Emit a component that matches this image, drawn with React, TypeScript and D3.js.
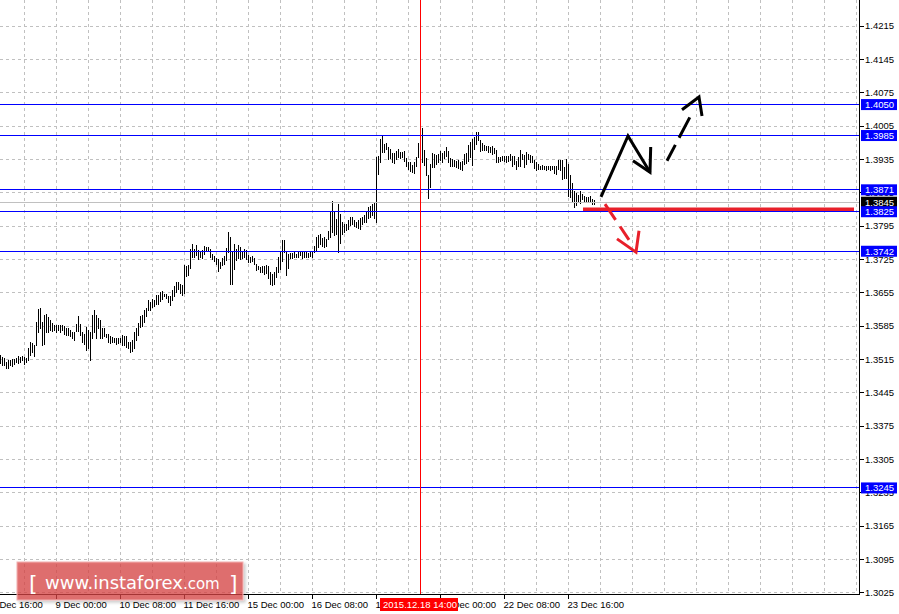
import React from 'react';
import * as d3 from 'd3';

// ---- Data (EURUSD H1 bars) ----
const highs = [
  1.3524,1.3520,1.3517,1.3510,1.3513,1.3513,1.3516,1.3516,1.3517,1.3521,
  1.3520,1.3523,1.3520,1.3518,1.3538,1.3552,1.3549,1.3546,1.3594,1.3621,
  1.3623,1.3594,1.3608,1.3611,1.3604,1.3597,1.3591,1.3588,1.3587,1.3587,
  1.3587,1.3587,1.3584,1.3580,1.3580,1.3577,1.3573,1.3573,1.3590,1.3607,
  1.3590,1.3573,1.3569,1.3583,1.3576,1.3573,1.3608,1.3619,1.3608,1.3601,
  1.3597,1.3581,1.3581,1.3569,1.3569,1.3565,1.3562,1.3560,1.3560,1.3559,
  1.3560,1.3566,1.3565,1.3563,1.3552,1.3552,1.3555,1.3573,1.3580,1.3591,
  1.3605,1.3609,1.3619,1.3622,1.3639,
  1.3636,1.3641,1.3639,1.3650,1.3650,1.3657,1.3659,1.3653,1.3652,1.3649,
  1.3649,1.3660,1.3669,1.3677,1.3678,1.3674,1.3671,1.3713,1.3712,1.3713,
  1.3746,1.3757,1.3747,1.3755,1.3744,1.3743,1.3744,1.3753,1.3751,1.3751,
  1.3746,1.3737,1.3733,1.3727,1.3725,1.3720,1.3727,1.3732,1.3749,1.3782,
  1.3772,1.3741,1.3758,1.3747,1.3755,1.3751,1.3743,1.3747,1.3744,1.3734,
  1.3729,1.3732,1.3727,1.3716,1.3712,1.3709,1.3711,1.3711,1.3713,1.3711,
  1.3699,1.3695,1.3699,1.3708,1.3730,1.3741,1.3765,1.3766,1.3741,1.3736,
  1.3739,1.3739,1.3741,1.3737,1.3740,1.3743,1.3741,1.3740,
  1.3740,1.3738,1.3741,1.3743,1.3754,1.3772,1.3776,1.3779,1.3769,1.3771,
  1.3768,1.3785,1.3824,1.3848,1.3825,1.3810,1.3842,1.3821,1.3804,1.3800,
  1.3799,1.3808,1.3814,1.3814,1.3808,1.3804,1.3807,1.3811,1.3813,1.3818,
  1.3825,1.3835,1.3836,1.3842,1.3845,1.3940,1.3943,1.3978,1.3986,1.3968,
  1.3970,1.3960,1.3957,1.3949,1.3949,1.3953,1.3957,1.3951,1.3951,1.3953,
  1.3937,1.3930,1.3929,1.3923,1.3929,1.3940,1.3970,1.3988,1.4000,1.3954,
  1.3937,1.3902,1.3925,1.3949,1.3946,1.3944,1.3947,1.3953,1.3949,1.3953,
  1.3960,1.3953,
  1.3937,1.3935,1.3933,1.3932,1.3933,1.3930,1.3932,1.3947,1.3948,1.3965,
  1.3971,1.3978,1.3981,1.3993,1.3992,1.3975,1.3969,1.3965,1.3962,1.3964,
  1.3960,1.3962,1.3958,1.3954,1.3939,1.3940,1.3943,1.3941,1.3943,1.3941,
  1.3946,1.3941,1.3943,1.3932,1.3940,1.3954,1.3947,1.3944,1.3950,1.3946,
  1.3944,1.3943,1.3934,1.3930,1.3925,1.3922,1.3923,1.3921,1.3922,1.3921,
  1.3922,1.3921,1.3922,1.3921,1.3933,1.3933,1.3933,1.3919,1.3936,1.3926,
  1.3902,1.3886,1.3869,1.3865,1.3860,1.3869,1.3862,1.3858,1.3856,1.3856,
  1.3858,1.3851,1.3849,
];
const lows = [
  1.3507,1.3504,1.3503,1.3496,1.3497,1.3504,1.3502,1.3506,1.3510,1.3507,
  1.3510,1.3513,1.3506,1.3510,1.3513,1.3524,1.3530,1.3521,1.3545,1.3573,
  1.3580,1.3545,1.3548,1.3572,1.3573,1.3576,1.3574,1.3577,1.3573,1.3577,
  1.3573,1.3576,1.3569,1.3567,1.3566,1.3563,1.3559,1.3555,1.3574,1.3574,
  1.3567,1.3552,1.3548,1.3535,1.3538,1.3514,1.3559,1.3573,1.3559,1.3580,
  1.3560,1.3559,1.3563,1.3562,1.3552,1.3549,1.3552,1.3551,1.3548,1.3549,
  1.3552,1.3545,1.3545,1.3541,1.3538,1.3531,1.3532,1.3538,1.3555,1.3566,
  1.3583,1.3586,1.3593,1.3605,1.3618,
  1.3618,1.3624,1.3627,1.3632,1.3632,1.3638,1.3642,1.3648,1.3643,1.3635,
  1.3630,1.3639,1.3649,1.3657,1.3662,1.3655,1.3650,1.3655,1.3690,1.3692,
  1.3706,1.3729,1.3730,1.3734,1.3725,1.3730,1.3727,1.3737,1.3742,1.3742,
  1.3730,1.3725,1.3721,1.3715,1.3701,1.3706,1.3713,1.3716,1.3723,1.3741,
  1.3674,1.3674,1.3704,1.3723,1.3727,1.3725,1.3727,1.3730,1.3725,1.3719,
  1.3720,1.3722,1.3715,1.3702,1.3704,1.3698,1.3699,1.3695,1.3697,1.3685,
  1.3674,1.3671,1.3673,1.3688,1.3699,1.3704,1.3722,1.3741,1.3692,1.3706,
  1.3727,1.3727,1.3730,1.3729,1.3729,1.3734,1.3727,1.3730,
  1.3729,1.3730,1.3733,1.3730,1.3740,1.3745,1.3751,1.3758,1.3752,1.3750,
  1.3754,1.3768,1.3772,1.3783,1.3776,1.3778,1.3740,1.3760,1.3779,1.3783,
  1.3787,1.3789,1.3797,1.3800,1.3794,1.3793,1.3790,1.3789,1.3799,1.3803,
  1.3804,1.3811,1.3813,1.3818,1.3811,1.3803,1.3904,1.3930,1.3951,1.3951,
  1.3956,1.3935,1.3937,1.3930,1.3928,1.3935,1.3939,1.3937,1.3940,1.3932,
  1.3921,1.3914,1.3911,1.3909,1.3907,1.3922,1.3939,1.3963,1.3930,1.3923,
  1.3902,1.3853,1.3877,1.3918,1.3919,1.3925,1.3929,1.3934,1.3929,1.3937,
  1.3942,1.3930,
  1.3921,1.3921,1.3922,1.3919,1.3916,1.3914,1.3912,1.3925,1.3927,1.3932,
  1.3940,1.3923,1.3957,1.3968,1.3975,1.3953,1.3955,1.3954,1.3954,1.3950,
  1.3951,1.3947,1.3948,1.3930,1.3930,1.3932,1.3933,1.3932,1.3929,1.3932,
  1.3933,1.3921,1.3926,1.3915,1.3921,1.3921,1.3935,1.3919,1.3926,1.3936,
  1.3930,1.3930,1.3916,1.3912,1.3915,1.3915,1.3915,1.3914,1.3912,1.3914,
  1.3912,1.3914,1.3907,1.3905,1.3914,1.3912,1.3894,1.3895,1.3895,1.3857,
  1.3855,1.3846,1.3835,1.3839,1.3845,1.3844,1.3852,1.3846,1.3848,1.3846,
  1.3845,1.3841,1.3842,
];

const priceTicks = [
  '1.3025','1.3095','1.3165','1.3235','1.3305','1.3375','1.3445','1.3515','1.3585',
  '1.3655','1.3725','1.3795','1.3865','1.3935','1.4005','1.4075','1.4145','1.4215',
];
const levelLines = [1.4050, 1.3985, 1.3871, 1.3825, 1.3742, 1.3245];
const levelLabels = ['1.4050', '1.3985', '1.3871', '1.3825', '1.3742', '1.3245'];
const currentPrice = 1.3845;
const currentLabel = '1.3845';

const timeLabels = [
  '7 Dec 16:00', '9 Dec 00:00', '10 Dec 08:00', '11 Dec 16:00', '15 Dec 00:00',
  '16 Dec 08:00', '17 Dec 16:00', '21 Dec 00:00', '22 Dec 08:00', '23 Dec 16:00',
];
const timeLabelBars = [-4, 28, 60, 92, 124, 156, 188, 220, 252, 284];
const gridBars = [12, 28, 44, 60, 76, 92, 108, 124, 140, 156, 172, 188, 204, 220, 236, 252, 268, 284, 300, 316, 332, 348, 364, 380, 396, 412, 428];
const cursorBar = 210;
const cursorLabel = '2015.12.18 14:00';

// annotations in (bar index, price)
const upPath: [number, number][] = [[300.25, 1.3856], [313.75, 1.3984], [324.75, 1.3908]];
const upHead: [number, number][] = [[316.25, 1.3932], [324.75, 1.3908], [325.1, 1.3961]];
const up2Shaft: [number, number][] = [[333.25, 1.3932], [344.75, 1.4024]];
const up2Head: [number, number][] = [[340.75, 1.4039], [349.25, 1.4066], [350.75, 1.4026]];
const downShaft: [number, number][] = [[302.25, 1.3841], [314.25, 1.3766]];
const downHead: [number, number][] = [[308.25, 1.3768], [317.75, 1.3740], [319.25, 1.3785]];
const supportLine: [number, number][] = [[291.25, 1.3830], [426.75, 1.3830]];

const W = 899;
const H = 614;
const AXIS_X = 859.5;
const AXIS_Y = 594.5;
const FONT = "'Liberation Sans', Arial, sans-serif";

export default function App() {
  const x = d3.scaleLinear().domain([0, 297]).range([0.5, 594.5]);
  const y = d3.scaleLinear().domain([1.3025, 1.4215]).range([592.7, 26]);
  const snap = (v: number) => Math.floor(v) + 0.5;
  const line = d3.line<[number, number]>().x(d => x(d[0])).y(d => y(d[1]));

  const RED = '#e8202a';

  return (
    <svg width={W} height={H} style={{ position: 'absolute', left: 0, top: 0, background: '#fff' }}
      fontFamily={FONT}>
      <defs>
        <filter id="sh" x="-10%" y="-20%" width="130%" height="150%">
          <feDropShadow dx="2" dy="2" stdDeviation="1.5" floodColor="#000" floodOpacity="0.25" />
        </filter>
      </defs>
      <rect width={W} height={H} fill="#fff" />
      {/* grid */}
      {gridBars.map(b => (
        <line key={'gv' + b} x1={snap(x(b))} x2={snap(x(b))} y1={0} y2={593}
          stroke="#c0c0c0" strokeDasharray="3,3" shapeRendering="crispEdges" />
      ))}
      {priceTicks.map(t => (
        <line key={'gh' + t} x1={0} x2={857} y1={snap(y(+t))} y2={snap(y(+t))}
          stroke="#c0c0c0" strokeDasharray="3,3" shapeRendering="crispEdges" />
      ))}
      {/* bars */}
      {highs.map((h, i) => {
        const y1 = y(h);
        const y2 = Math.max(y(lows[i]), y1 + 1);
        return <line key={'b' + i} x1={x(i)} x2={x(i)} y1={Math.round(y1)} y2={Math.round(y2) + 1}
          stroke="#000" strokeWidth={1} shapeRendering="crispEdges" />;
      })}
      {/* level lines */}
      <line x1={0} x2={AXIS_X} y1={snap(y(currentPrice))} y2={snap(y(currentPrice))} stroke="#c0c0c0"
        shapeRendering="crispEdges" />
      {levelLines.map(v => (
        <line key={'l' + v} x1={0} x2={AXIS_X} y1={snap(y(v))} y2={snap(y(v))} stroke="#0000ff"
          strokeWidth={1} shapeRendering="crispEdges" />
      ))}
      {/* cursor line */}
      <line x1={snap(x(cursorBar))} x2={snap(x(cursorBar))} y1={0} y2={AXIS_Y} stroke="#ff0000"
        shapeRendering="crispEdges" />
      {/* annotations */}
      <path d={line(supportLine) || ''} stroke={RED} strokeWidth={3.5} fill="none" />
      <path d={line(upPath) || ''} stroke="#000" strokeWidth={3} fill="none" strokeLinejoin="miter" />
      <path d={line(upHead) || ''} stroke="#000" strokeWidth={3} fill="none" />
      <path d={line(up2Shaft) || ''} stroke="#000" strokeWidth={3} fill="none" strokeDasharray="18 8 23 100" />
      <path d={line(up2Head) || ''} stroke="#000" strokeWidth={3} fill="none" />
      <path d={line(downShaft) || ''} stroke={RED} strokeWidth={3} fill="none" strokeDasharray="19 8" />
      <path d={line(downHead) || ''} stroke={RED} strokeWidth={3} fill="none" />
      {/* axes */}
      <line x1={AXIS_X} x2={AXIS_X} y1={0} y2={AXIS_Y + 0.5} stroke="#000" shapeRendering="crispEdges" />
      <line x1={0} x2={AXIS_X} y1={AXIS_Y} y2={AXIS_Y} stroke="#000" shapeRendering="crispEdges" />
      {priceTicks.map(t => (
        <g key={'pt' + t}>
          <line x1={AXIS_X} x2={AXIS_X + 4} y1={snap(y(+t))} y2={snap(y(+t))} stroke="#000"
            shapeRendering="crispEdges" />
          <text x={865} y={y(+t)} dy="0.35em" fontSize={9.5} fill="#000">{t}</text>
        </g>
      ))}
      {timeLabels.map((t, i) => {
        const tx = snap(x(timeLabelBars[i]));
        return (
          <g key={'tt' + t}>
            <line x1={tx} x2={tx} y1={AXIS_Y} y2={599} stroke="#000" shapeRendering="crispEdges" />
            <text x={tx - 1} y={608} fontSize={9.5} fill="#000">{t}</text>
          </g>
        );
      })}
      {/* cursor label */}
      <rect x={380} y={598} width={78} height={13} fill="#ff0000" />
      <text x={383} y={608} fontSize={9.5} fill="#fff">{cursorLabel}</text>
      {/* price boxes */}
      <rect x={861} y={y(currentPrice) - 5.5} width={36} height={11} fill="#000" />
      <text x={865} y={y(currentPrice)} dy="0.35em" fontSize={9.5} fill="#fff">{currentLabel}</text>
      {levelLines.map((v, i) => (
        <g key={'lb' + v}>
          <rect x={861} y={y(v) - 5.5} width={36} height={11} fill="#0000ff" />
          <text x={865} y={y(v)} dy="0.35em" fontSize={9.5} fill="#fff">{levelLabels[i]}</text>
        </g>
      ))}
      {/* logo */}
      <g filter="url(#sh)">
        <rect x={17} y={562} width={226} height={38} fill="#db4545" fillOpacity={0.72}
          stroke="#f2b0b0" strokeWidth={1} />
      </g>
      <text x={29} y={591} fill="#fff" fontFamily="'DejaVu Sans', sans-serif" fontSize={22}>[</text>
      <text x={45} y={589} fill="#fff" fontFamily="'DejaVu Sans', sans-serif" fontSize={18}>
        www.instaforex<tspan fontSize={15}>.com</tspan>
      </text>
      <text x={229} y={591} fill="#fff" fontFamily="'DejaVu Sans', sans-serif" fontSize={22}>]</text>
    </svg>
  );
}
